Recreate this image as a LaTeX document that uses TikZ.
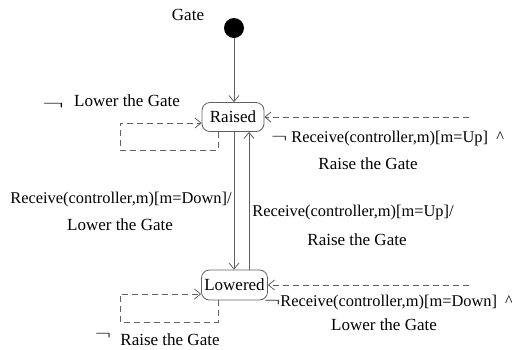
\documentclass[tikz,border=0pt]{standalone}
\usepackage{fontspec}
\setmainfont{Liberation Serif}
\usetikzlibrary{arrows.meta}
\definecolor{ln}{HTML}{606060}
\newcommand{\lneg}{\scalebox{1.4}[1.0]{$\neg$}}
\newcommand{\wneg}{\scalebox{1.9}[1.0]{$\neg$}}
\tikzset{
  state/.style={draw=ln, line width=0.8pt, rounded corners=8pt, inner sep=0pt, font=\fontsize{17}{20}\selectfont},
  lbl/.style={inner sep=0pt, font=\fontsize{17}{20}\selectfont},
  lbllong/.style={inner sep=0pt, font=\fontsize{16.4}{20}\selectfont},
  trans/.style={draw=ln, line width=0.8pt, -{Straight Barb[length=6pt,width=10pt]}},
  dtrans/.style={trans, dash pattern=on 6pt off 4pt},
}
\begin{document}
\begin{tikzpicture}[x=1pt,y=-1pt]
\useasboundingbox (0,0) rectangle (512,349);
\node[lbl] (gate) at (188,15) {Gate};
\node[circle, fill=black, minimum size=20pt, inner sep=0pt] (init) at (234,28) {};
\node[state, minimum width=62pt, minimum height=29pt] (raised) at (233,117) {Raised};
\node[state, minimum width=66pt, minimum height=30pt] (lowered) at (234.5,285) {Lowered};
% initial
\draw[trans] (init) -- (init |- raised.north);
% vertical transitions
\coordinate (d1) at (234,0);
\coordinate (u1) at (249,0);
\draw[trans] (d1 |- raised.south) -- (d1 |- lowered.north);
\draw[trans] (u1 |- lowered.north) -- (u1 |- raised.south);
% self loops
\coordinate (rl1) at (218,150);
\coordinate (rl2) at (120,123);
\draw[dtrans] (rl1 |- raised.south) -- (rl1) -| (rl2) -- (rl2 -| raised.west);
\coordinate (ll1) at (218,322);
\coordinate (ll2) at (120,294);
\draw[dtrans] (ll1 |- lowered.south) -- (ll1) -| (ll2) -- (ll2 -| lowered.west);
% right dashed
\coordinate (rs) at (469,117);
\draw[dtrans] (rs) -- (raised.east);
\coordinate (ls) at (469,285);
\draw[dtrans] (ls) -- (lowered.east);
% labels
\node[lbl] (n1) at (53,106) {\wneg};
\node[lbl] (t1) at (127,101) {Lower the Gate};
\node[lbllong, anchor=west] (t2) at (271,139) {\lneg\ Receive(controller,m)[m=Up]\ \ \textasciicircum};
\node[lbl] (t3) at (368,164) {Raise the Gate};
\node[lbllong] (t4) at (121,200) {Receive(controller,m)[m=Down]/};
\node[lbl] (t5) at (120,225) {Lower the Gate};
\node[lbllong] (t6) at (353,213) {Receive(controller,m)[m=Up]/};
\node[lbl] (t7) at (357,240) {Raise the Gate};
\node[lbllong, anchor=west] (t8) at (264,303) {\lneg Receive(controller,m)[m=Down]\ \ \textasciicircum};
\node[lbl] (t9) at (384,325) {Lower the Gate};
\node[lbl] (n2) at (103,336) {\lneg};
\node[lbl] (t10) at (170,340) {Raise the Gate};
\end{tikzpicture}
\end{document}
